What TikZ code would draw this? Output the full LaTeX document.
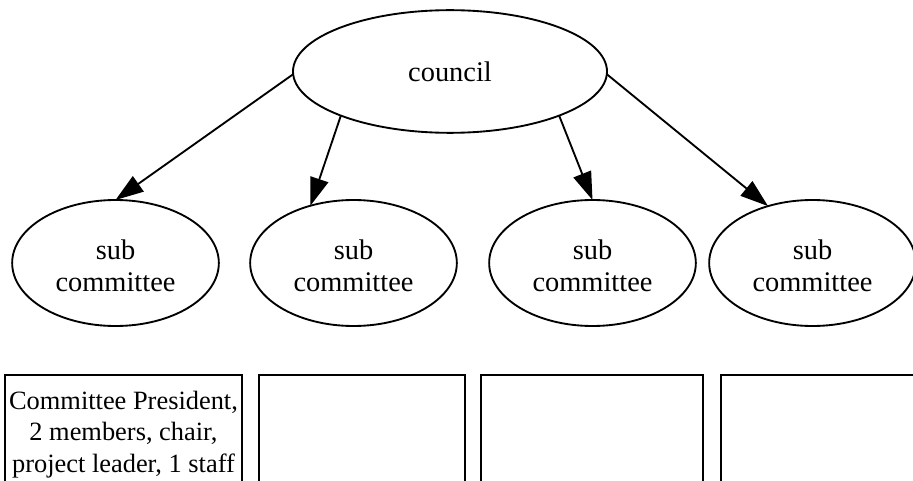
\documentclass[tikz,border=0pt]{standalone}
\usepackage{fontspec}
\setmainfont{Liberation Serif}
\usetikzlibrary{shapes.geometric,arrows.meta}
\begin{document}
\begin{tikzpicture}[x=0.75pt,y=-0.75pt,
  every node/.style={inner sep=0pt,outer sep=0pt},
  body/.style={ellipse,draw,line width=1.4pt,align=center,
    font=\fontsize{21.3}{24}\selectfont},
  member/.style={draw,line width=1.4pt,anchor=north west,minimum height=86pt},
  link/.style={line width=1.4pt,-{Triangle[length=21pt,width=14pt]}}]
\useasboundingbox (0,0) rectangle (913,481);
\clip (0,0) rectangle (913,481);
% top level
\node[body,minimum width=235.5pt,minimum height=92pt] (council) at (450,71.5) {council};
% second level
\foreach \n/\x in {s1/115.5,s2/353.5,s3/592.5,s4/812.5}
  \node[body,minimum width=155pt,minimum height=94.5pt] (\n) at (\x,263)
    {\rule{0pt}{19pt}sub\\committee};
% membership boxes
\node[member,minimum width=177.75pt,align=center,
      font=\fontsize{19.8}{23.6}\selectfont] (b1) at (5,375)
  {\rule{0pt}{17pt}Committee President,\\2 members, chair,\\project leader, 1 staff};
\node[member,minimum width=154.5pt] (b2) at (259,375) {};
\node[member,minimum width=166.5pt] (b3) at (481,375) {};
\node[member,minimum width=157.5pt] (b4) at (721,375) {};
% connectors
\draw[link] (council.181) -- (s1.north);
\draw[link] (council.202) -- (s2.127);
\draw[link] (council.338) -- (s3.north);
\draw[link] (council.359) -- (s4.128);
\end{tikzpicture}
\end{document}
